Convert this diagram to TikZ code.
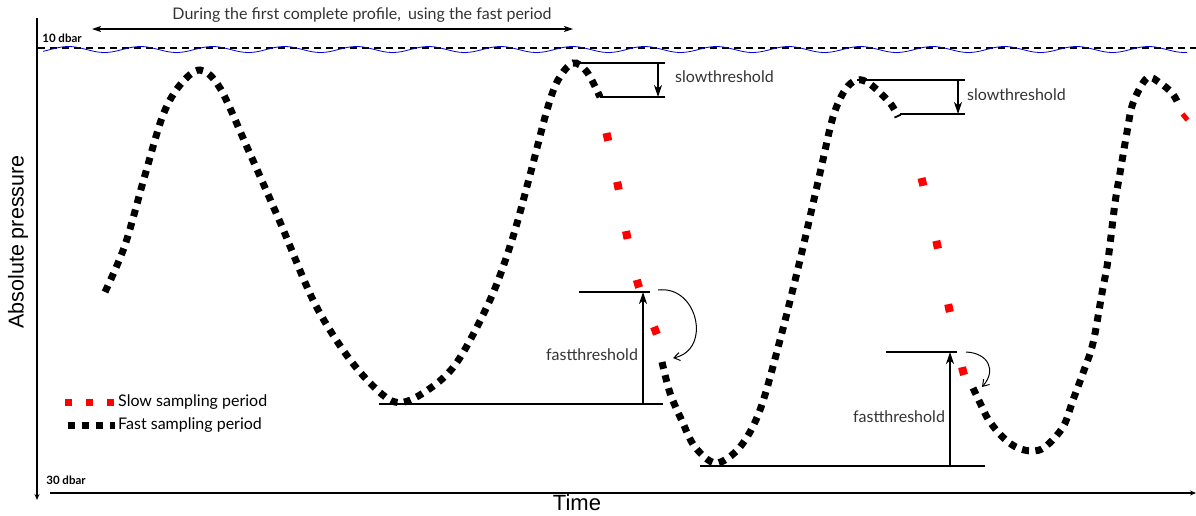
\documentclass[tikz,border=0pt]{standalone}
\usepackage{fontspec}
\setmainfont{Lato}
\newfontfamily\arialfont{Liberation Sans}
\usetikzlibrary{arrows.meta}
\tikzset{
  fastdash/.style={line width=7pt, dash pattern=on 7pt off 6.5pt, line cap=butt},
  slowdash/.style={red, line width=8pt, line cap=butt},
  guide/.style={line width=1.2pt},
  thr/.style={line width=1.2pt, -{Stealth[length=12pt,width=8pt,inset=3.5pt]}},
  curvearrow/.style={line width=1pt, -{Straight Barb[length=6pt,width=8pt]}},
  lbl/.style={font=\fontsize{16}{18}\selectfont, text=black!80, inner sep=0pt},
  dbar/.style={font=\bfseries\fontsize{11.5}{13}\selectfont, inner sep=0pt},
  axis/.style={line width=1.8pt, -{Stealth[length=6pt,width=5pt]}},
  bigtxt/.style={font=\arialfont\fontsize{22}{24}\selectfont, inner sep=0pt}
}
\begin{document}
\begin{tikzpicture}[x=1pt,y=-1pt]
\useasboundingbox (0,0) rectangle (1196,515);

% axes
\coordinate (ytop) at (37,18);
\coordinate (ybot) at (37,500);
\coordinate (xl) at (50,493);
\coordinate (xr) at (1196,493);
\draw[axis] (ytop) -- (ybot);
\draw[axis] (xl) -- (xr);
\node[bigtxt] (time) at (577,503) {Time};
\node[bigtxt, rotate=90, font=\arialfont\fontsize{21.5}{23}\selectfont] (pressure) at (18,242) {Absolute pressure};

% 10 dbar reference
\coordinate (tl) at (38,48);
\coordinate (tr) at (1196,48);
\draw[line width=1.3pt, dash pattern=on 7pt off 5pt] (tl) -- (tr);
\draw[blue!85!black, line width=0.8pt] plot[domain=43:1187, samples=320] (\x, {49.5 - 3*cos((\x-68.5)/72*360)});
\node[dbar] (d10) at (62,38) {10 dbar};
\node[dbar] (d30) at (66,480) {30 dbar};

% first-profile arrow
\coordinate (fa) at (92,29);
\coordinate (fb) at (573,29);
\draw[line width=1.2pt, {Stealth[length=9pt,width=6pt,inset=2pt]}-{Stealth[length=9pt,width=6pt,inset=2pt]}] (fa) -- (fb);
\node[lbl] (during) at (362,15) {During the first complete profile,\hspace{3pt} using the fast period};

% profile curve
\draw[fastdash] plot[smooth, tension=0.55] coordinates {
 (105,292) (125,245) (145,175) (163,115) (180,85) (200,70) (220,88) (247,147)
 (280,222) (313,300) (343,350) (370,383) (395,402) (420,395) (455,365) (490,300)
 (512,240) (530,175) (547,110) (558,80) (573,63) (587,72) (600,97)};
\draw[slowdash, dash pattern=on 8pt off 42pt] plot[smooth, tension=0.5] coordinates {
 (606.5,133) (618,186) (627,236) (638,284) (656,332) (660,342)};
\draw[fastdash] plot[smooth, tension=0.55] coordinates {
 (662,362) (670,393) (682,421) (695,447) (716,463) (740,447) (760,410) (780,340)
 (800,260) (820,173) (833,117) (845,90) (857,80) (870,84) (890,103) (898,117)};
\draw[slowdash, dash pattern=on 8pt off 56.5pt] plot[smooth, tension=0.5] coordinates {
 (921.5,178) (937,244) (949,308) (963,371) (966,380)};
\draw[fastdash] plot[smooth, tension=0.55] coordinates {
 (973,388) (982,407) (988,419) (997,431) (1007,441) (1018,448) (1032,451) (1045,447)
 (1063,427) (1073,400) (1083,373) (1093,343) (1102,293) (1108,260) (1115,203)
 (1120,173) (1127,132) (1133,103) (1147,78) (1160,83) (1172,93) (1179,105)};
\draw[red, line width=5pt] (1182.5,114) -- (1187.5,120);

% slow threshold 1
\coordinate (s1a) at (573,63);  \coordinate (s1b) at (665,63);
\coordinate (s1c) at (600,97);  \coordinate (s1d) at (665,97);
\coordinate (s1t) at (658,63);  \coordinate (s1h) at (658,97);
\draw[guide] (s1a) -- (s1b);
\draw[guide] (s1c) -- (s1d);
\draw[thr] (s1t) -- (s1h);
\node[lbl, anchor=west] (slow1) at (675,77) {slowthreshold};

% slow threshold 2
\coordinate (s2a) at (857,80);  \coordinate (s2b) at (965,80);
\coordinate (s2c) at (900,114); \coordinate (s2d) at (965,114);
\coordinate (s2t) at (958,80);  \coordinate (s2h) at (958,114);
\draw[guide] (s2a) -- (s2b);
\draw[guide] (s2c) -- (s2d);
\draw[thr] (s2t) -- (s2h);
\node[lbl, anchor=west] (slow2) at (967,95) {slowthreshold};

% fast threshold 1
\coordinate (f1a) at (579,292); \coordinate (f1b) at (650,292);
\coordinate (f1c) at (379,404); \coordinate (f1d) at (663,404);
\coordinate (f1t) at (643,404); \coordinate (f1h) at (643,292);
\draw[guide] (f1a) -- (f1b);
\draw[guide] (f1c) -- (f1d);
\draw[thr] (f1t) -- (f1h);
\node[lbl] (fast1) at (592,355) {fastthreshold};
\coordinate (c1s) at (658,290); \coordinate (c1e) at (673,358);
\draw[curvearrow] (c1s) .. controls (698,285) and (712,350) .. (c1e);

% fast threshold 2
\coordinate (f2a) at (886,352); \coordinate (f2b) at (957,352);
\coordinate (f2c) at (700,466); \coordinate (f2d) at (985,466);
\coordinate (f2t) at (950,466); \coordinate (f2h) at (950,352);
\draw[guide] (f2a) -- (f2b);
\draw[guide] (f2c) -- (f2d);
\draw[thr] (f2t) -- (f2h);
\node[lbl] (fast2) at (899,417) {fastthreshold};
\coordinate (c2s) at (966,352); \coordinate (c2e) at (982,387);
\draw[curvearrow] (c2s) .. controls (988,353) and (997,370) .. (c2e);

% legend
\coordinate (lr1) at (65,402);  \coordinate (lr2) at (114,402);
\coordinate (lb1) at (67.5,425); \coordinate (lb2) at (114.5,425);
\draw[red, line width=7pt, dash pattern=on 7pt off 14pt] (lr1) -- (lr2);
\draw[line width=7pt, dash pattern=on 7pt off 7pt] (lb1) -- (lb2);
\node[lbl, anchor=west, text=black] (lgslow) at (118,402) {Slow sampling period};
\node[lbl, anchor=west, text=black] (lgfast) at (118,425) {Fast sampling period};
\end{tikzpicture}
\end{document}
